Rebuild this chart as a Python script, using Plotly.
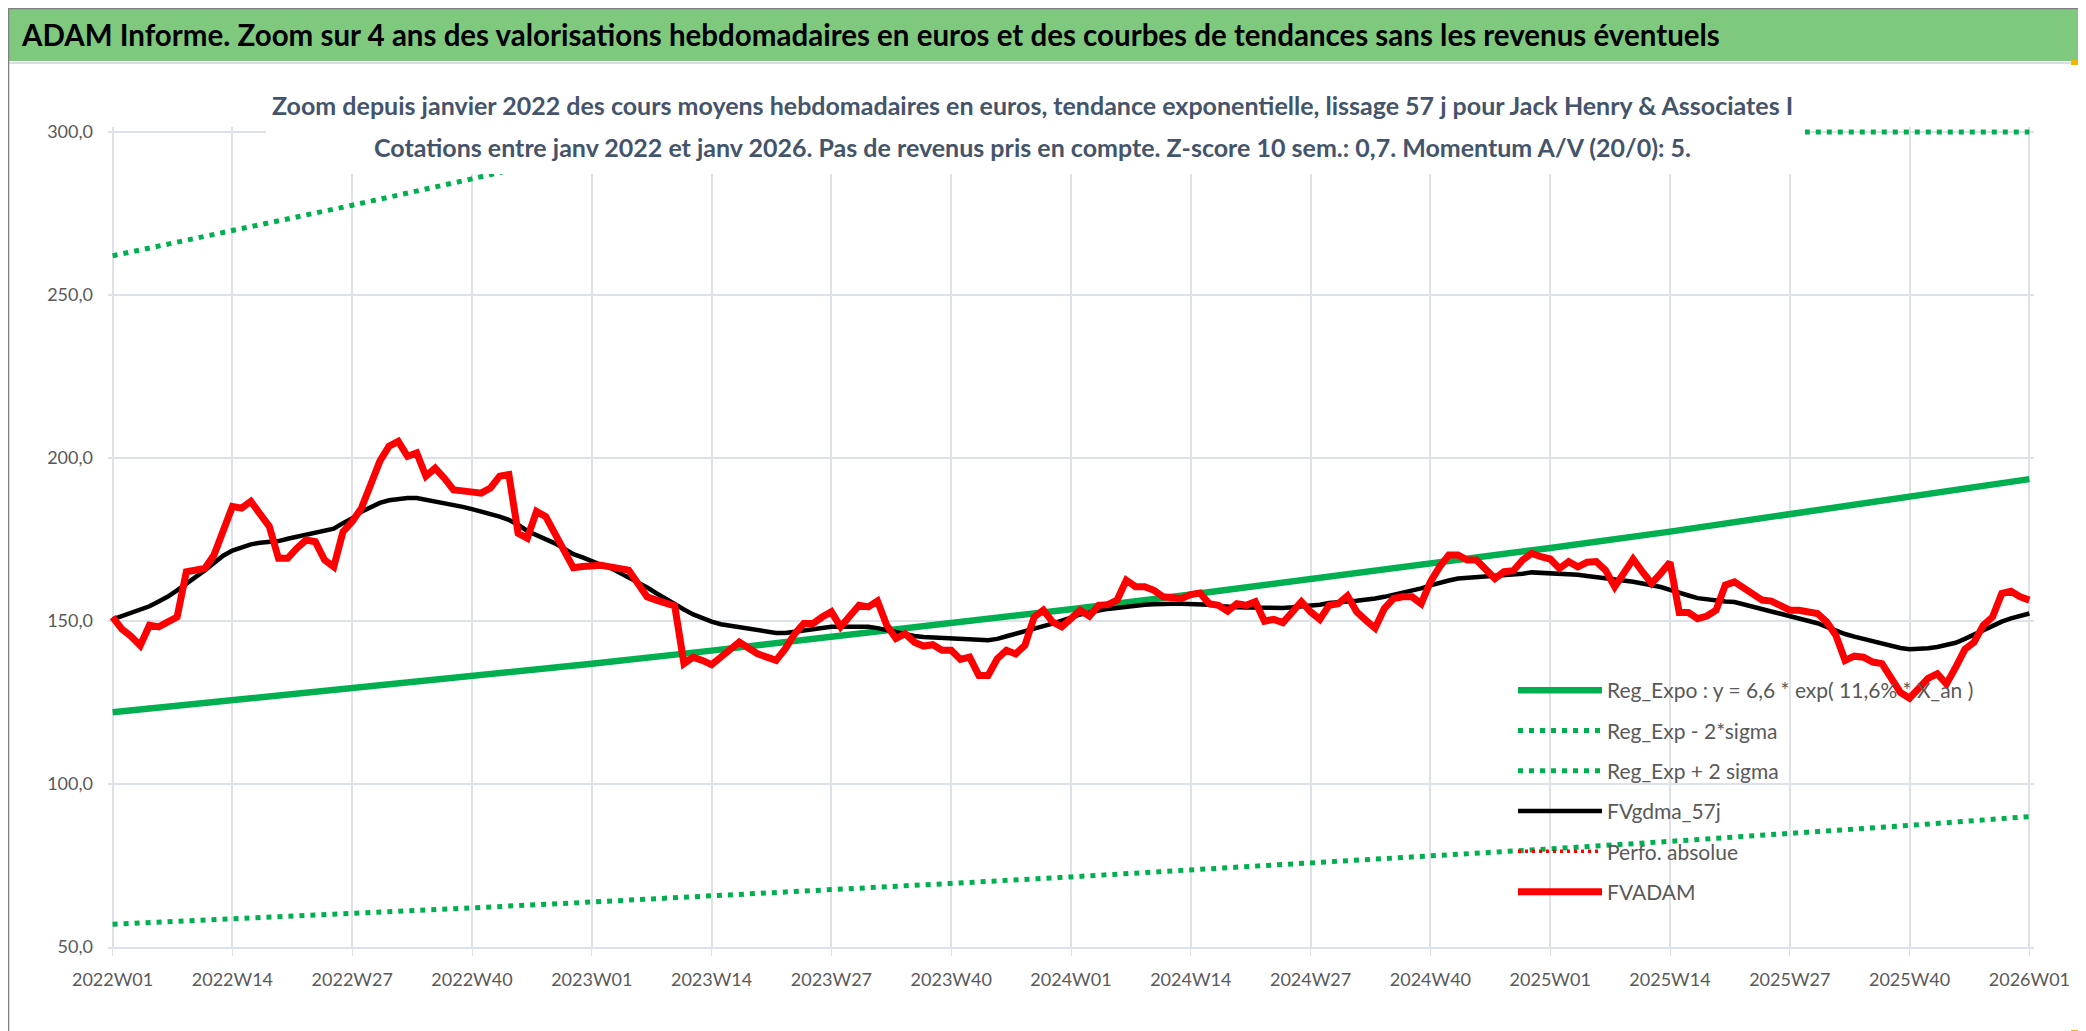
import plotly.graph_objects as go

W, H = 2086, 1031
ML, MR, MT, MB = 100, 60, 119, 92
PW, PH = W - ML - MR, H - MT - MB

# weekly categories 2022W01 .. 2026W01
weeks = [f"{y}W{w:02d}" for y in (2022, 2023, 2024, 2025) for w in range(1, 53)] + ["2026W01"]
tick_weeks = weeks[::13]

fvadam = [
    151.2, 147.5, 145.3, 142.5, 148.7, 148.2, 149.7, 151.2, 165.1, 165.6,
    166.1, 170.2, 177.4, 185.1, 184.6, 186.7, 182.8, 179.0, 169.2, 169.2,
    172.3, 174.8, 174.3, 168.7, 166.6, 177.4, 180.5, 184.6, 191.8, 199.0,
    203.6, 205.1, 200.5, 201.5, 194.4, 196.9, 193.8, 190.2, 189.9, 189.7,
    189.2, 190.8, 194.4, 194.9, 176.9, 175.4, 183.6, 182.0, 176.6, 172.3,
    166.3,
    166.7, 167.0, 167.1, 166.6, 165.9, 165.6, 161.5, 157.4, 156.4, 155.3,
    154.6, 136.9, 138.9, 137.9, 136.6, 138.9, 141.0, 143.5, 141.7, 139.9,
    138.9, 137.9, 141.5, 146.0, 149.2, 149.2, 151.2, 152.8, 148.2, 151.2,
    154.8, 154.3, 156.1, 148.7, 144.6, 146.1, 143.5, 142.3, 142.7, 141.0,
    141.0, 138.2, 138.9, 133.3, 133.3, 138.4, 141.0, 139.9, 142.5, 151.2,
    153.3, 149.7, 148.2,
    150.7, 153.3, 151.5, 154.8, 155.0, 156.4, 162.5, 160.5, 160.5, 159.4,
    157.4, 157.1, 156.9, 158.1, 158.6, 155.3, 154.8, 153.0, 155.3, 154.8,
    155.9, 149.9, 150.5, 149.5, 152.8, 155.9, 152.8, 150.5, 154.8, 155.3,
    157.7, 152.8, 150.2, 147.8, 153.8, 156.9, 157.4, 157.4, 155.3, 162.0,
    166.6, 170.2, 170.2, 168.7, 168.7, 165.6, 163.0, 165.1, 165.4, 168.7,
    170.7, 169.7, 169.0,
    166.1, 168.2, 166.6, 168.0, 168.2, 165.6, 160.5, 165.1, 169.0, 165.1,
    161.5, 164.6, 168.0, 152.6, 152.6, 150.7, 151.5, 153.3, 161.0, 162.0,
    160.0, 158.1, 156.4, 156.1, 154.6, 153.3, 153.3, 152.6, 152.3, 149.7,
    145.6, 137.9, 139.2, 138.9, 137.4, 136.9, 132.2, 128.1, 126.3, 129.7,
    132.4, 133.8, 130.7, 135.8, 141.3, 143.5, 148.7, 151.2, 158.4, 159.1,
    157.4, 156.4,
]

fvgdma_57j = [
    150.5, 151.5, 152.3, 153.2, 154.5, 156.0, 157.5, 159.4, 161.3, 163.5,
    165.5, 167.8, 170.0, 171.6, 172.5, 173.5, 174.0, 174.2, 174.5, 175.2,
    175.8, 176.5, 176.8, 177.4, 178.3, 180.0, 181.5, 183.5, 185.0, 186.2,
    187.0, 187.5, 187.7, 187.7, 187.2, 186.7, 186.0, 185.5, 185.0, 184.3,
    183.6, 182.8, 182.0, 181.0, 179.5, 177.6, 176.3, 175.2, 173.8, 172.2,
    170.5,
    169.5, 168.3, 167.2, 166.3, 164.8, 163.5, 162.0, 160.3, 158.5, 156.7,
    155.2, 153.5, 152.0, 150.8, 149.8, 149.0, 148.5, 148.0, 147.5, 147.1,
    146.7, 146.3, 146.3, 146.7, 147.1, 147.5, 148.0, 148.2, 148.2, 148.2,
    148.2, 148.2, 147.8, 147.2, 146.4, 146.0, 145.4, 145.1, 144.9, 144.7,
    144.6, 144.5, 144.3, 144.2, 144.1, 144.5, 145.3, 146.0, 146.8, 147.6,
    148.4, 149.2, 150.0,
    151.0, 152.0, 152.7, 153.2, 153.7, 154.1, 154.5, 154.8, 155.0, 155.1,
    155.3, 155.3, 155.3, 155.3, 155.3, 155.0, 154.6, 154.3, 154.2, 154.1,
    154.0, 154.0, 154.0, 154.0, 154.2, 154.4, 154.6, 155.0, 155.5, 155.9,
    156.0, 156.2, 156.4, 156.9, 157.4, 158.0, 158.6, 159.2, 160.0, 160.9,
    161.8, 162.4, 163.0, 163.2, 163.4, 163.6, 163.8, 164.0, 164.1, 164.5,
    164.9, 164.8, 164.6,
    164.7, 164.5, 164.2, 163.8, 163.5, 163.2, 162.8, 162.4, 162.0, 161.5,
    161.0, 160.4, 159.5, 158.5, 157.8, 157.0, 156.6, 156.3, 156.0, 155.8,
    155.0, 154.3, 153.6, 152.9, 152.2, 151.5, 150.8, 150.1, 149.3, 148.2,
    147.0, 146.0, 145.2, 144.5, 143.7, 143.0, 142.3, 141.7, 141.3, 141.4,
    141.6, 142.0, 142.5, 143.3, 144.5, 145.8, 147.3, 148.6, 149.8, 150.8,
    151.6, 152.3,
]

# trend lines read at every labelled week (every 13 weeks)
reg_expo = [122.0, 125.6, 129.2, 132.9, 136.9, 140.9, 145.0, 149.2, 153.6,
            158.1, 162.7, 167.5, 172.4, 177.4, 182.6, 188.0, 193.5]
reg_low = [57.0, 58.6, 60.3, 62.0, 63.8, 65.6, 67.5, 69.5, 71.5,
           73.6, 75.7, 77.9, 80.1, 82.4, 84.8, 87.3, 90.0]
reg_high = [262.0, 269.7, 277.5, 285.6, 294.0, 300.0, 300.0, 300.0, 300.0,
            300.0, 300.0, 300.0, 300.0, 300.0, 300.0, 300.0, 300.0]
perfo_absolue = [None]

title_txt = "ADAM Informe. Zoom sur 4 ans des valorisations hebdomadaires en euros et des courbes de tendances sans les revenus éventuels"
subtitle_1 = "Zoom depuis janvier 2022 des cours moyens hebdomadaires en euros, tendance exponentielle, lissage 57 j pour Jack Henry & Associates I"
subtitle_2 = "Cotations entre janv 2022 et janv 2026. Pas de revenus pris en compte. Z-score 10 sem.: 0,7. Momentum A/V (20/0): 5."

GREEN = "#00B050"
GRID = "#DDE1E8"
FONT = "Lato, Carlito, Calibri, sans-serif"
YELLOW = "#F2B705"


def px(x):
    return (x - ML) / PW


def py(y):
    return (H - MB - y) / PH


def box(x0, y0, x1, y1, **kw):
    return dict(type="rect", xref="paper", yref="paper",
                x0=px(x0), x1=px(x1), y0=py(y1), y1=py(y0), **kw)


fig = go.Figure()
fig.add_trace(go.Scatter(x=tick_weeks, y=reg_expo, mode="lines", name="Reg_Expo : y = 6,6 * exp( 11,6% * X_an )",
                         line=dict(color=GREEN, width=6.5), legendgroup="a"))
fig.add_trace(go.Scatter(x=tick_weeks, y=reg_low, mode="lines", name="Reg_Exp - 2*sigma",
                         line=dict(color=GREEN, width=5, dash="5px,6px"), legendgroup="b"))
fig.add_trace(go.Scatter(x=tick_weeks, y=reg_high, mode="lines", name="Reg_Exp + 2 sigma",
                         line=dict(color=GREEN, width=5, dash="5px,6px"), legendgroup="c"))
fig.add_trace(go.Scatter(x=weeks, y=fvgdma_57j, mode="lines", name="FVgdma_57j",
                         line=dict(color="black", width=4.5), legendgroup="d"))
fig.add_trace(go.Scatter(x=weeks[:1], y=perfo_absolue, mode="lines", name="Perfo. absolue",
                         line=dict(color="red", width=3.5, dash="3px,4px"), legendgroup="e"))
fig.add_trace(go.Scatter(x=weeks, y=fvadam, mode="lines", name="FVADAM",
                         line=dict(color="#FF0000", width=7), legendgroup="f"))

shapes = [
    box(0, 0, W, 53, fillcolor="#7FC97F", line=dict(width=0), layer="below"),
    box(0, 54, 2081, 56, fillcolor="#DADDE3", line=dict(width=0)),
    box(0, 1024, 2081, 1026, fillcolor="#DADDE3", line=dict(width=0)),
    box(2079, 54, 2081, 1026, fillcolor="#DADDE3", line=dict(width=0)),
    box(0.5, 0.5, W - 0.5, H - 0.5, line=dict(color="#808080", width=1.5)),
    # white panel behind the subtitle, hides the curves passing under it
    box(258, 76, 1797, 166, fillcolor="white", line=dict(width=0), layer="above"),
    # small yellow handles of the original frame
    box(0, 1024, 22, 1028, fillcolor=YELLOW, line=dict(width=0)),
    box(2063, 52, 2085, 57, fillcolor=YELLOW, line=dict(width=0)),
    box(2080, 52, 2085, 70, fillcolor=YELLOW, line=dict(width=0)),
    box(2080, 987, 2085, 1027, fillcolor=YELLOW, line=dict(width=0)),
    box(2063, 1022, 2085, 1027, fillcolor=YELLOW, line=dict(width=0)),
]

annotations = [
    dict(text=f"<b>{title_txt}</b>", xref="paper", yref="paper", x=px(11), y=py(27),
         xanchor="left", yanchor="middle", showarrow=False,
         font=dict(family=FONT, size=29.5, color="black")),
    dict(text=f"<b>{subtitle_1}</b>", xref="paper", yref="paper", x=px(1024), y=py(97),
         xanchor="center", yanchor="middle", showarrow=False,
         font=dict(family=FONT, size=25, color="#44546A")),
    dict(text=f"<b>{subtitle_2}</b>", xref="paper", yref="paper", x=px(1024), y=py(139),
         xanchor="center", yanchor="middle", showarrow=False,
         font=dict(family=FONT, size=25, color="#44546A")),
]

fig.update_layout(
    width=W, height=H,
    margin=dict(l=ML, r=MR, t=MT, b=MB),
    paper_bgcolor="white", plot_bgcolor="white",
    separators=",.",
    font=dict(family=FONT, color="#595959"),
    shapes=shapes, annotations=annotations,
    showlegend=True,
    legend=dict(x=px(1505), y=py(662), xanchor="left", yanchor="top",
                bgcolor="rgba(0,0,0,0)", font=dict(size=21, color="#595959"),
                tracegroupgap=10, itemwidth=84),
)
fig.update_xaxes(type="category", categoryorder="array", categoryarray=weeks,
                 range=[-0.5, len(weeks) - 0.5],
                 tickmode="array", tickvals=tick_weeks, ticktext=tick_weeks,
                 showgrid=True, gridcolor=GRID, gridwidth=1.5,
                 showline=True, linecolor=GRID, linewidth=2,
                 ticks="outside", ticklen=7, tickcolor=GRID, ticklabelstandoff=8,
                 tickfont=dict(size=18, color="#595959"), tickangle=0)
fig.update_yaxes(range=[50, 301.5], tickvals=[50, 100, 150, 200, 250, 300], tickformat=".1f",
                 showgrid=True, gridcolor=GRID, gridwidth=1.5, zeroline=False,
                 ticklabelstandoff=14, tickfont=dict(size=18, color="#595959"))

fig.write_html("out.html")
